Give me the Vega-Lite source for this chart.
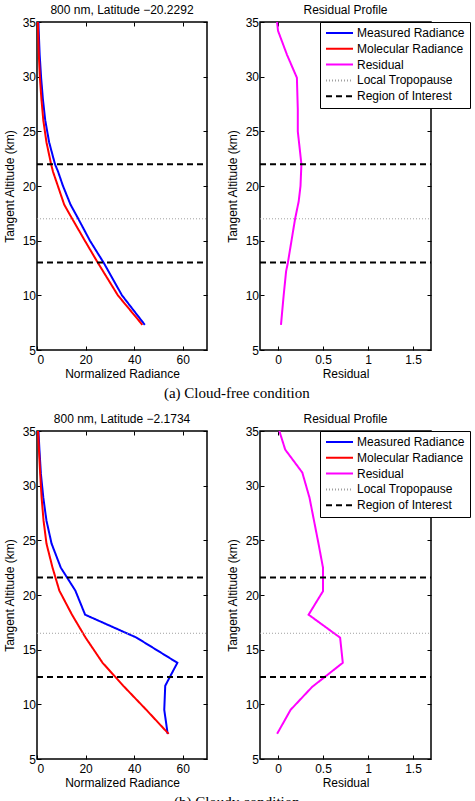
{
  "$schema": "https://vega.github.io/schema/vega-lite/v6.json",
  "background": "white",
  "padding": {"left": 2, "top": 3, "right": 0, "bottom": 0},
  "config": {
    "font": "Liberation Sans",
    "view": {"stroke": "#000000", "strokeWidth": 1.5},
    "axis": {
      "grid": false, "domain": false, "ticks": true,
      "tickColor": "#000000", "tickSize": -4, "tickWidth": 1,
      "labelFont": "Liberation Sans", "labelFontSize": 12, "labelColor": "#000000",
      "titleFont": "Liberation Sans", "titleFontSize": 12, "titleFontWeight": "normal", "titleColor": "#000000"
    },
    "axisX": {"labelPadding": 8, "titlePadding": 3},
    "axisY": {"labelPadding": 5.5, "titlePadding": 6},
    "title": {"font": "Liberation Sans", "fontSize": 12, "fontWeight": "normal", "color": "#000000", "offset": -1},
    "legend": {
      "labelFont": "Liberation Sans", "labelFontSize": 12, "labelColor": "#000000",
      "strokeColor": "#000000", "fillColor": "#ffffff", "padding": 5, "rowPadding": 3.8,
      "symbolType": "M-1,0H4.4", "symbolSize": 100, "labelOffset": 20, "labelLimit": 0,
      "symbolStrokeWidth": 2
    }
  },
  "datasets": {
    "profiles": [
      {"case": "a", "series": "Measured Radiance", "alt": 35, "value": 0.6},
      {"case": "a", "series": "Measured Radiance", "alt": 34.2, "value": 0.7},
      {"case": "a", "series": "Measured Radiance", "alt": 32, "value": 1.1},
      {"case": "a", "series": "Measured Radiance", "alt": 29.9, "value": 1.7},
      {"case": "a", "series": "Measured Radiance", "alt": 28, "value": 2.4},
      {"case": "a", "series": "Measured Radiance", "alt": 26, "value": 3.4},
      {"case": "a", "series": "Measured Radiance", "alt": 24, "value": 5.0},
      {"case": "a", "series": "Measured Radiance", "alt": 22, "value": 7.4},
      {"case": "a", "series": "Measured Radiance", "alt": 21.3, "value": 8.7},
      {"case": "a", "series": "Measured Radiance", "alt": 20, "value": 10.7},
      {"case": "a", "series": "Measured Radiance", "alt": 18.3, "value": 13.8},
      {"case": "a", "series": "Measured Radiance", "alt": 17, "value": 17.0},
      {"case": "a", "series": "Measured Radiance", "alt": 15, "value": 21.8},
      {"case": "a", "series": "Measured Radiance", "alt": 13, "value": 27.4},
      {"case": "a", "series": "Measured Radiance", "alt": 10, "value": 35.0},
      {"case": "a", "series": "Measured Radiance", "alt": 7.3, "value": 44.4},
      {"case": "a", "series": "Molecular Radiance", "alt": 35, "value": 0.35},
      {"case": "a", "series": "Molecular Radiance", "alt": 34.2, "value": 0.45},
      {"case": "a", "series": "Molecular Radiance", "alt": 32, "value": 0.75},
      {"case": "a", "series": "Molecular Radiance", "alt": 29.9, "value": 1.2},
      {"case": "a", "series": "Molecular Radiance", "alt": 28, "value": 1.8},
      {"case": "a", "series": "Molecular Radiance", "alt": 26, "value": 2.6},
      {"case": "a", "series": "Molecular Radiance", "alt": 24, "value": 3.9},
      {"case": "a", "series": "Molecular Radiance", "alt": 22, "value": 5.8},
      {"case": "a", "series": "Molecular Radiance", "alt": 21.3, "value": 6.6},
      {"case": "a", "series": "Molecular Radiance", "alt": 20, "value": 8.6},
      {"case": "a", "series": "Molecular Radiance", "alt": 18.3, "value": 11.2},
      {"case": "a", "series": "Molecular Radiance", "alt": 17, "value": 14.5},
      {"case": "a", "series": "Molecular Radiance", "alt": 15, "value": 19.7},
      {"case": "a", "series": "Molecular Radiance", "alt": 13, "value": 25.0},
      {"case": "a", "series": "Molecular Radiance", "alt": 10, "value": 33.3},
      {"case": "a", "series": "Molecular Radiance", "alt": 7.3, "value": 43.4},
      {"case": "a", "series": "Residual", "alt": 35, "value": -0.01},
      {"case": "a", "series": "Residual", "alt": 34.2, "value": 0.0},
      {"case": "a", "series": "Residual", "alt": 32, "value": 0.1},
      {"case": "a", "series": "Residual", "alt": 29.9, "value": 0.21},
      {"case": "a", "series": "Residual", "alt": 27, "value": 0.22},
      {"case": "a", "series": "Residual", "alt": 25, "value": 0.22},
      {"case": "a", "series": "Residual", "alt": 22, "value": 0.26},
      {"case": "a", "series": "Residual", "alt": 20, "value": 0.25},
      {"case": "a", "series": "Residual", "alt": 18.6, "value": 0.23},
      {"case": "a", "series": "Residual", "alt": 17, "value": 0.19},
      {"case": "a", "series": "Residual", "alt": 15, "value": 0.15},
      {"case": "a", "series": "Residual", "alt": 13, "value": 0.11},
      {"case": "a", "series": "Residual", "alt": 12.2, "value": 0.09},
      {"case": "a", "series": "Residual", "alt": 10, "value": 0.063},
      {"case": "a", "series": "Residual", "alt": 7.3, "value": 0.033},
      {"case": "b", "series": "Measured Radiance", "alt": 35, "value": 0.6},
      {"case": "b", "series": "Measured Radiance", "alt": 33.3, "value": 1.0},
      {"case": "b", "series": "Measured Radiance", "alt": 31.1, "value": 1.6},
      {"case": "b", "series": "Measured Radiance", "alt": 28.9, "value": 2.6},
      {"case": "b", "series": "Measured Radiance", "alt": 26.8, "value": 3.9},
      {"case": "b", "series": "Measured Radiance", "alt": 24.7, "value": 6.0},
      {"case": "b", "series": "Measured Radiance", "alt": 22.5, "value": 9.8},
      {"case": "b", "series": "Measured Radiance", "alt": 20.4, "value": 15.8},
      {"case": "b", "series": "Measured Radiance", "alt": 18.2, "value": 19.8},
      {"case": "b", "series": "Measured Radiance", "alt": 16.1, "value": 41.0},
      {"case": "b", "series": "Measured Radiance", "alt": 13.8, "value": 57.8},
      {"case": "b", "series": "Measured Radiance", "alt": 11.7, "value": 52.8},
      {"case": "b", "series": "Measured Radiance", "alt": 9.5, "value": 52.4},
      {"case": "b", "series": "Measured Radiance", "alt": 7.3, "value": 53.8},
      {"case": "b", "series": "Molecular Radiance", "alt": 35, "value": 0.4},
      {"case": "b", "series": "Molecular Radiance", "alt": 33.3, "value": 0.8},
      {"case": "b", "series": "Molecular Radiance", "alt": 31.1, "value": 1.3},
      {"case": "b", "series": "Molecular Radiance", "alt": 28.9, "value": 1.9},
      {"case": "b", "series": "Molecular Radiance", "alt": 26.8, "value": 2.7},
      {"case": "b", "series": "Molecular Radiance", "alt": 24.7, "value": 3.9},
      {"case": "b", "series": "Molecular Radiance", "alt": 22.5, "value": 6.4},
      {"case": "b", "series": "Molecular Radiance", "alt": 20.4, "value": 9.2},
      {"case": "b", "series": "Molecular Radiance", "alt": 18.2, "value": 14.4},
      {"case": "b", "series": "Molecular Radiance", "alt": 16.1, "value": 20.0},
      {"case": "b", "series": "Molecular Radiance", "alt": 13.8, "value": 27.0},
      {"case": "b", "series": "Molecular Radiance", "alt": 11.7, "value": 35.5},
      {"case": "b", "series": "Molecular Radiance", "alt": 9.5, "value": 45.0},
      {"case": "b", "series": "Molecular Radiance", "alt": 7.3, "value": 54.2},
      {"case": "b", "series": "Residual", "alt": 35, "value": 0.015},
      {"case": "b", "series": "Residual", "alt": 33.3, "value": 0.08},
      {"case": "b", "series": "Residual", "alt": 31.2, "value": 0.27},
      {"case": "b", "series": "Residual", "alt": 28.9, "value": 0.35},
      {"case": "b", "series": "Residual", "alt": 26.8, "value": 0.4},
      {"case": "b", "series": "Residual", "alt": 24.7, "value": 0.45},
      {"case": "b", "series": "Residual", "alt": 22.5, "value": 0.5},
      {"case": "b", "series": "Residual", "alt": 20.35, "value": 0.5},
      {"case": "b", "series": "Residual", "alt": 18.2, "value": 0.34},
      {"case": "b", "series": "Residual", "alt": 16.1, "value": 0.69},
      {"case": "b", "series": "Residual", "alt": 13.8, "value": 0.72},
      {"case": "b", "series": "Residual", "alt": 11.6, "value": 0.38},
      {"case": "b", "series": "Residual", "alt": 9.5, "value": 0.14},
      {"case": "b", "series": "Residual", "alt": 7.3, "value": -0.01}
    ],
    "levels": [
      {"case": "a", "series": "Region of Interest", "alt": 22.0},
      {"case": "a", "series": "Region of Interest", "alt": 13.0},
      {"case": "a", "series": "Local Tropopause", "alt": 17.0},
      {"case": "b", "series": "Region of Interest", "alt": 21.6},
      {"case": "b", "series": "Region of Interest", "alt": 12.5},
      {"case": "b", "series": "Local Tropopause", "alt": 16.5}
    ]
  },
  "resolve": {"scale": {"color": "independent", "strokeDash": "independent"}},
  "spacing": 11,
  "vconcat": [
    {
      "title": {"text": "(a) Cloud-free condition", "orient": "bottom", "anchor": "middle", "font": "Liberation Serif", "fontSize": 15, "offset": 6},
      "resolve": {"scale": {"color": "independent", "strokeDash": "independent"}},
      "spacing": 16,
      "hconcat": [
        {
          "width": 170, "height": 328,
          "title": "800 nm, Latitude −20.2292",
          "resolve": {"axis": {"x": "independent", "y": "independent"}},
          "layer": [
            {
              "data": {"name": "profiles"},
              "transform": [{"filter": "datum.case === 'a' && datum.series !== 'Residual'"}],
              "mark": {"type": "line", "strokeWidth": 2},
              "encoding": {
                "x": {"field": "value", "type": "quantitative", "title": "Normalized Radiance", "scale": {"domain": [0, 70]}, "axis": {"values": [0, 20, 40, 60]}},
                "y": {"field": "alt", "type": "quantitative", "title": "Tangent Altitude (km)", "scale": {"domain": [5, 35]}, "axis": {"values": [5, 10, 15, 20, 25, 30, 35]}},
                "order": {"field": "alt", "type": "quantitative"},
                "color": {"field": "series", "type": "nominal", "legend": null,
                  "scale": {"domain": ["Measured Radiance", "Molecular Radiance", "Residual", "Local Tropopause", "Region of Interest"], "range": ["#0000ff", "#ff0000", "#ff00ff", "#a0a0a0", "#000000"]}},
                "strokeDash": {"field": "series", "type": "nominal", "legend": null,
                  "scale": {"domain": ["Measured Radiance", "Molecular Radiance", "Residual", "Local Tropopause", "Region of Interest"], "range": [[1, 0], [1, 0], [1, 0], [1, 2], [6, 4]]}}
              }
            },
            {
              "data": {"name": "levels"},
              "transform": [{"filter": "datum.case === 'a'"}],
              "mark": {"type": "rule"},
              "encoding": {
                "x": {"datum": 0, "type": "quantitative", "scale": {"domain": [0, 70]}, "axis": {"orient": "top", "labels": false, "title": null, "values": [0, 20, 40, 60]}},
                "x2": {"datum": 70},
                "y": {"field": "alt", "type": "quantitative", "scale": {"domain": [5, 35]}, "axis": {"orient": "right", "labels": false, "title": null, "values": [5, 10, 15, 20, 25, 30, 35]}},
                "strokeWidth": {"condition": {"test": "datum.series === 'Local Tropopause'", "value": 1}, "value": 2},
                "color": {"field": "series", "type": "nominal", "legend": null},
                "strokeDash": {"field": "series", "type": "nominal", "legend": null}
              }
            }
          ]
        },
        {
          "width": 171, "height": 328,
          "title": "Residual Profile",
          "resolve": {"axis": {"x": "independent", "y": "independent"}},
          "layer": [
            {
              "data": {"name": "profiles"},
              "transform": [{"filter": "datum.case === 'a' && datum.series === 'Residual'"}],
              "mark": {"type": "line", "strokeWidth": 2},
              "encoding": {
                "x": {"field": "value", "type": "quantitative", "title": "Residual", "scale": {"domain": [-0.2, 1.7]}, "axis": {"values": [0, 0.5, 1, 1.5], "format": "~g"}},
                "y": {"field": "alt", "type": "quantitative", "title": "Tangent Altitude (km)", "scale": {"domain": [5, 35]}, "axis": {"values": [5, 10, 15, 20, 25, 30, 35]}},
                "order": {"field": "alt", "type": "quantitative"},
                "color": {"field": "series", "type": "nominal", "legend": {"orient": "none", "legendX": 60, "legendY": 0, "title": null},
                  "scale": {"domain": ["Measured Radiance", "Molecular Radiance", "Residual", "Local Tropopause", "Region of Interest"], "range": ["#0000ff", "#ff0000", "#ff00ff", "#a0a0a0", "#000000"]}},
                "strokeDash": {"field": "series", "type": "nominal", "legend": {"orient": "none", "legendX": 60, "legendY": 0, "title": null},
                  "scale": {"domain": ["Measured Radiance", "Molecular Radiance", "Residual", "Local Tropopause", "Region of Interest"], "range": [[1, 0], [1, 0], [1, 0], [1, 2], [6, 4]]}}
              }
            },
            {
              "data": {"name": "levels"},
              "transform": [{"filter": "datum.case === 'a'"}],
              "mark": {"type": "rule"},
              "encoding": {
                "x": {"datum": -0.2, "type": "quantitative", "scale": {"domain": [-0.2, 1.7]}, "axis": {"orient": "top", "labels": false, "title": null, "values": [0, 0.5, 1, 1.5]}},
                "x2": {"datum": 1.7},
                "y": {"field": "alt", "type": "quantitative", "scale": {"domain": [5, 35]}, "axis": {"orient": "right", "labels": false, "title": null, "values": [5, 10, 15, 20, 25, 30, 35]}},
                "strokeWidth": {"condition": {"test": "datum.series === 'Local Tropopause'", "value": 1}, "value": 2},
                "color": {"field": "series", "type": "nominal", "legend": {"orient": "none", "legendX": 60, "legendY": 0, "title": null}},
                "strokeDash": {"field": "series", "type": "nominal", "legend": {"orient": "none", "legendX": 60, "legendY": 0, "title": null}}
              }
            }
          ]
        }
      ]
    },
    {
      "title": {"text": "(b) Cloudy condition", "orient": "bottom", "anchor": "middle", "font": "Liberation Serif", "fontSize": 15, "offset": 6},
      "resolve": {"scale": {"color": "independent", "strokeDash": "independent"}},
      "spacing": 16,
      "hconcat": [
        {
          "width": 170, "height": 328,
          "title": "800 nm, Latitude −2.1734",
          "resolve": {"axis": {"x": "independent", "y": "independent"}},
          "layer": [
            {
              "data": {"name": "profiles"},
              "transform": [{"filter": "datum.case === 'b' && datum.series !== 'Residual'"}],
              "mark": {"type": "line", "strokeWidth": 2},
              "encoding": {
                "x": {"field": "value", "type": "quantitative", "title": "Normalized Radiance", "scale": {"domain": [0, 70]}, "axis": {"values": [0, 20, 40, 60]}},
                "y": {"field": "alt", "type": "quantitative", "title": "Tangent Altitude (km)", "scale": {"domain": [5, 35]}, "axis": {"values": [5, 10, 15, 20, 25, 30, 35]}},
                "order": {"field": "alt", "type": "quantitative"},
                "color": {"field": "series", "type": "nominal", "legend": null,
                  "scale": {"domain": ["Measured Radiance", "Molecular Radiance", "Residual", "Local Tropopause", "Region of Interest"], "range": ["#0000ff", "#ff0000", "#ff00ff", "#a0a0a0", "#000000"]}},
                "strokeDash": {"field": "series", "type": "nominal", "legend": null,
                  "scale": {"domain": ["Measured Radiance", "Molecular Radiance", "Residual", "Local Tropopause", "Region of Interest"], "range": [[1, 0], [1, 0], [1, 0], [1, 2], [6, 4]]}}
              }
            },
            {
              "data": {"name": "levels"},
              "transform": [{"filter": "datum.case === 'b'"}],
              "mark": {"type": "rule"},
              "encoding": {
                "x": {"datum": 0, "type": "quantitative", "scale": {"domain": [0, 70]}, "axis": {"orient": "top", "labels": false, "title": null, "values": [0, 20, 40, 60]}},
                "x2": {"datum": 70},
                "y": {"field": "alt", "type": "quantitative", "scale": {"domain": [5, 35]}, "axis": {"orient": "right", "labels": false, "title": null, "values": [5, 10, 15, 20, 25, 30, 35]}},
                "strokeWidth": {"condition": {"test": "datum.series === 'Local Tropopause'", "value": 1}, "value": 2},
                "color": {"field": "series", "type": "nominal", "legend": null},
                "strokeDash": {"field": "series", "type": "nominal", "legend": null}
              }
            }
          ]
        },
        {
          "width": 171, "height": 328,
          "title": "Residual Profile",
          "resolve": {"axis": {"x": "independent", "y": "independent"}},
          "layer": [
            {
              "data": {"name": "profiles"},
              "transform": [{"filter": "datum.case === 'b' && datum.series === 'Residual'"}],
              "mark": {"type": "line", "strokeWidth": 2},
              "encoding": {
                "x": {"field": "value", "type": "quantitative", "title": "Residual", "scale": {"domain": [-0.2, 1.7]}, "axis": {"values": [0, 0.5, 1, 1.5], "format": "~g"}},
                "y": {"field": "alt", "type": "quantitative", "title": "Tangent Altitude (km)", "scale": {"domain": [5, 35]}, "axis": {"values": [5, 10, 15, 20, 25, 30, 35]}},
                "order": {"field": "alt", "type": "quantitative"},
                "color": {"field": "series", "type": "nominal", "legend": {"orient": "none", "legendX": 60, "legendY": 0, "title": null},
                  "scale": {"domain": ["Measured Radiance", "Molecular Radiance", "Residual", "Local Tropopause", "Region of Interest"], "range": ["#0000ff", "#ff0000", "#ff00ff", "#a0a0a0", "#000000"]}},
                "strokeDash": {"field": "series", "type": "nominal", "legend": {"orient": "none", "legendX": 60, "legendY": 0, "title": null},
                  "scale": {"domain": ["Measured Radiance", "Molecular Radiance", "Residual", "Local Tropopause", "Region of Interest"], "range": [[1, 0], [1, 0], [1, 0], [1, 2], [6, 4]]}}
              }
            },
            {
              "data": {"name": "levels"},
              "transform": [{"filter": "datum.case === 'b'"}],
              "mark": {"type": "rule"},
              "encoding": {
                "x": {"datum": -0.2, "type": "quantitative", "scale": {"domain": [-0.2, 1.7]}, "axis": {"orient": "top", "labels": false, "title": null, "values": [0, 0.5, 1, 1.5]}},
                "x2": {"datum": 1.7},
                "y": {"field": "alt", "type": "quantitative", "scale": {"domain": [5, 35]}, "axis": {"orient": "right", "labels": false, "title": null, "values": [5, 10, 15, 20, 25, 30, 35]}},
                "strokeWidth": {"condition": {"test": "datum.series === 'Local Tropopause'", "value": 1}, "value": 2},
                "color": {"field": "series", "type": "nominal", "legend": {"orient": "none", "legendX": 60, "legendY": 0, "title": null}},
                "strokeDash": {"field": "series", "type": "nominal", "legend": {"orient": "none", "legendX": 60, "legendY": 0, "title": null}}
              }
            }
          ]
        }
      ]
    }
  ]
}
